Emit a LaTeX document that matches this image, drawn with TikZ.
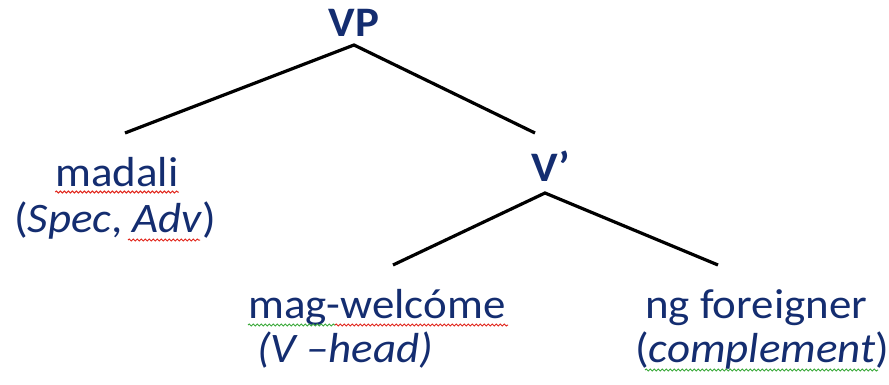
\documentclass[tikz,border=0pt]{standalone}
\usepackage{fontspec}
\setmainfont{Carlito}[FakeStretch=1.07]
\usetikzlibrary{decorations.pathmorphing}
\definecolor{txt}{RGB}{20,45,112}
\definecolor{spellred}{RGB}{225,40,30}
\definecolor{spellgreen}{RGB}{60,170,60}
\begin{document}
\begin{tikzpicture}[x=1pt,y=-1pt,
  lbl/.style={font=\fontsize{42}{44}\selectfont, text=txt, inner sep=0pt},
  cat/.style={font=\fontsize{42}{44}\selectfont\bfseries, text=txt, inner sep=0pt},
  branch/.style={line width=3.2pt, black},
  wavyred/.style={spellred, line width=1pt, decorate, decoration={snake, segment length=4pt, amplitude=1pt}},
  wavygreen/.style={spellgreen, line width=1pt, decorate, decoration={snake, segment length=4pt, amplitude=1pt}}]
\useasboundingbox (0,0) rectangle (889,385);
% category nodes
\node[cat, anchor=base] (vp) at (354,37) {VP};
\node[cat, anchor=base] (vbar) at (551,182) {V’};
% word nodes
\node[lbl, anchor=base] (madali) at (117,186) {madali};
\node[lbl, anchor=base west] (spec) at (14,232) {(\textit{Spec}, \textit{Adv})};
\node[lbl, anchor=base west] (welcome) at (248,318) {mag-welcóme};
\node[lbl, anchor=base west] (head) at (257,362) {\textit{(V –head)}};
\node[lbl, anchor=base west] (foreigner) at (645,318) {ng foreigner};
\node[lbl, anchor=base west] (compl) at (635,362) {(\textit{complement})};
% branch points
\coordinate (vptop) at (354,45);
\coordinate (lEnd) at (125,133);
\coordinate (rEnd) at (535,133);
\coordinate (vbartop) at (545,193);
\coordinate (vlEnd) at (393,265);
\coordinate (vrEnd) at (718,265);
\draw[branch] (lEnd) -- (vptop) -- (rEnd);
\draw[branch] (vlEnd) -- (vbartop) -- (vrEnd);
% spell-check underlines
\draw[wavyred] ([yshift=-6pt]madali.base west) -- ([yshift=-6pt]madali.base east);
\draw[wavyred] (128,240) -- (200,240);
\draw[wavygreen] (248,325) -- (335,325);
\draw[wavyred] (335,325) -- (508,325);
\draw[wavygreen] (645,370) -- (878,370);
\end{tikzpicture}
\end{document}
